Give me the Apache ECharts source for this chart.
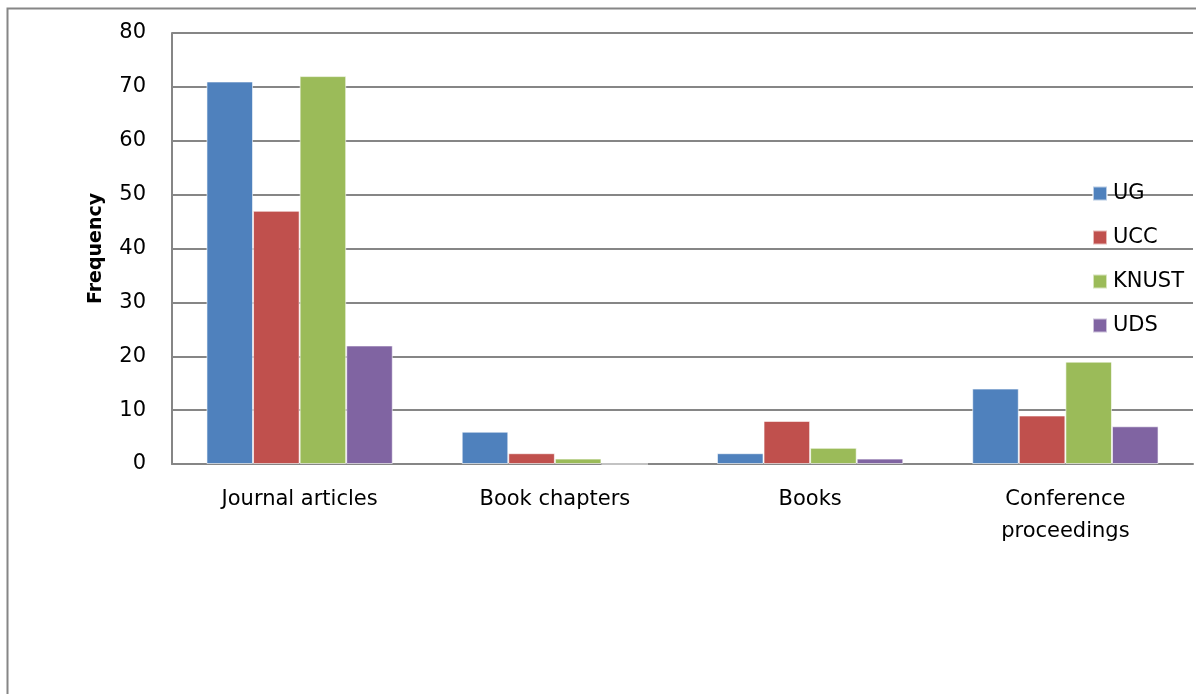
<!DOCTYPE html>
<html>
<head>
<meta charset="utf-8">
<script src="https://cdn.jsdelivr.net/npm/echarts@6/dist/echarts.min.js"></script>
<style>
  html, body { margin: 0; padding: 0; background: #fff; }
  #chart { width: 1196px; height: 694px; }
</style>
</head>
<body>
<div id="chart"></div>
<script>
const categories = ['Journal articles', 'Book chapters', 'Books', 'Conference\nproceedings'];
const seriesNames = ['UG', 'UCC', 'KNUST', 'UDS'];
const ugValues = [71, 6, 2, 14];
const uccValues = [47, 2, 8, 9];
const knustValues = [72, 1, 3, 19];
const udsValues = [22, 0, 1, 7];
const colors = ['#4F81BD', '#C0504D', '#9BBB59', '#8064A2'];
const yTicks = [0, 10, 20, 30, 40, 50, 60, 70, 80];

const allValues = [ugValues, uccValues, knustValues, udsValues];
const font = 'DejaVu Sans';

const chart = echarts.init(document.getElementById('chart'));
chart.setOption({
  animation: false,
  textStyle: { fontFamily: font },
  graphic: [{
    type: 'rect',
    shape: { x: 7.5, y: 8.5, width: 1200, height: 700 },
    style: { fill: 'none', stroke: '#868686', lineWidth: 2 },
    silent: true
  }],
  grid: { left: 172, top: 33, right: 3, bottom: 230, containLabel: false },
  legend: {
    orient: 'vertical',
    left: 1087,
    top: 178,
    itemWidth: 14,
    itemHeight: 14,
    itemGap: 23,
    icon: 'rect',
    textStyle: { fontSize: 21, color: '#000', fontFamily: font, padding: [0, 0, 0, 1] },
    data: seriesNames
  },
  xAxis: {
    type: 'category',
    data: categories,
    axisLine: { lineStyle: { color: '#868686', width: 2 } },
    axisTick: { show: false },
    axisLabel: { fontSize: 21, color: '#000', margin: 20, lineHeight: 32, fontFamily: font }
  },
  yAxis: {
    type: 'value',
    min: yTicks[0],
    max: yTicks[yTicks.length - 1],
    interval: 10,
    name: 'Frequency',
    nameLocation: 'middle',
    nameGap: 66,
    nameTextStyle: { fontSize: 19, fontWeight: 'bold', color: '#000', fontFamily: font },
    axisLine: { show: true, lineStyle: { color: '#868686', width: 2 } },
    axisTick: { show: false },
    axisLabel: { fontSize: 21, color: '#000', margin: 26, fontFamily: font },
    splitLine: { lineStyle: { color: '#868686', width: 2 } }
  },
  series: seriesNames.map((name, i) => ({
    name,
    type: 'bar',
    data: allValues[i],
    barGap: '0%',
    barCategoryGap: '27%',
    itemStyle: { color: colors[i], borderColor: 'rgba(255,255,255,0.6)', borderWidth: 1 }
  }))
});
</script>
</body>
</html>
